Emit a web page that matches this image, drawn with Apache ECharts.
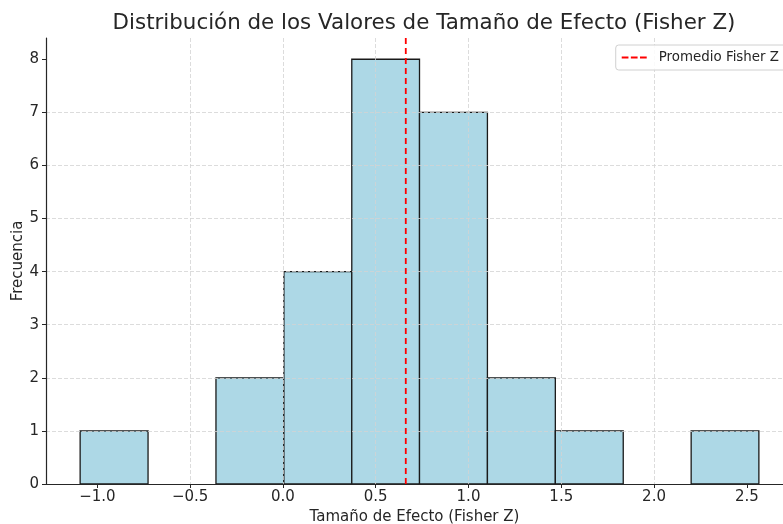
<!DOCTYPE html>
<html>
<head>
<meta charset="utf-8">
<script src="https://cdn.jsdelivr.net/npm/echarts@6/dist/echarts.min.js"></script>
<style>
html,body{margin:0;padding:0;background:#fff;}
#chart{width:783px;height:524px;}
</style>
</head>
<body>
<div id="chart"></div>
<script>
// Histogram bin edges (Fisher Z) and counts
const binEdges = [-1.093, -0.727, -0.361, 0.005, 0.371, 0.736, 1.102, 1.468, 1.834, 2.200, 2.565];
const counts = [1, 0, 2, 4, 8, 7, 2, 1, 0, 1];
const meanFisherZ = 0.662;
const xTicks = [-1.0, -0.5, 0.0, 0.5, 1.0, 1.5, 2.0, 2.5];
const yTicks = [0, 1, 2, 3, 4, 5, 6, 7, 8];

const FONT = 'DejaVu Sans';
const barData = counts.map((c, i) => [binEdges[i], binEdges[i + 1], c]);

const chart = echarts.init(document.getElementById('chart'), null, {renderer: 'canvas'});
const option = {
  animation: false,
  backgroundColor: '#ffffff',
  title: {
    text: 'Distribución de los Valores de Tamaño de Efecto (Fisher Z)',
    left: 419, top: 8, textAlign: 'center',
    textStyle: {fontFamily: FONT, fontSize: 21.4, fontWeight: 'normal', color: '#262626'}
  },
  legend: {
    right: -8, top: 45,
    data: [{name: 'Promedio Fisher Z', icon: 'path://M0,0L7,0L7,2L0,2ZM9.5,0L16.5,0L16.5,2L9.5,2ZM19,0L26,0L26,2L19,2Z'}],
    itemWidth: 25, itemHeight: 2,
    padding: [5, 12, 5, 6],
    borderColor: '#d0d0d0', borderWidth: 1, borderRadius: 3,
    backgroundColor: 'rgba(255,255,255,0.85)',
    itemStyle: {color: '#ff0000', borderWidth: 0},
    textStyle: {fontFamily: FONT, fontSize: 13.4, color: '#262626', padding: [0, 0, 0, 7], lineHeight: 15}
  },
  grid: {left: 46, right: 0, top: 38, bottom: 40, containLabel: false, outerBoundsMode: 'none'},
  xAxis: {
    type: 'value', min: -1.277, max: 2.695, z: 3,
    name: 'Tamaño de Efecto (Fisher Z)', nameLocation: 'middle', nameGap: 26, nameMoveOverlap: false,
    nameTextStyle: {fontFamily: FONT, fontSize: 15, color: '#262626'},
    axisLine: {show: true, onZero: false, lineStyle: {color: '#262626', width: 1.2}},
    axisTick: {show: true, length: 4, inside: false, customValues: xTicks, lineStyle: {color: '#262626'}},
    axisLabel: {
      customValues: xTicks, margin: 6,
      fontFamily: FONT, fontSize: 15, color: '#262626',
      formatter: v => (v < 0 ? '\u2212' : '') + Math.abs(v).toFixed(1)
    },
    splitLine: {show: true, showMinLine: false, showMaxLine: false, lineStyle: {color: '#d3d3d3', type: [4, 2], width: 0.8}}
  },
  yAxis: {
    type: 'value', min: 0, max: 8.4, z: 3,
    name: 'Frecuencia', nameLocation: 'middle', nameGap: 20, nameRotate: 90, nameMoveOverlap: false,
    nameTextStyle: {fontFamily: FONT, fontSize: 15, color: '#262626'},
    axisLine: {show: true, onZero: false, lineStyle: {color: '#262626', width: 1.2}},
    axisTick: {show: true, length: 4, inside: false, customValues: yTicks, lineStyle: {color: '#262626'}},
    axisLabel: {customValues: yTicks, margin: 7, fontFamily: FONT, fontSize: 15, color: '#262626'},
    splitLine: {show: true, showMinLine: false, showMaxLine: false, lineStyle: {color: '#d3d3d3', type: [4, 2], width: 0.8}}
  },
  series: [
    {
      type: 'custom', name: 'hist', z: 2,
      data: barData,
      encode: {x: [0, 1], y: 2},
      renderItem: function (params, api) {
        const c = api.value(2);
        if (!c) return null;
        const p0 = api.coord([api.value(0), c]);
        const p1 = api.coord([api.value(1), 0]);
        return {
          type: 'rect',
          shape: {x: p0[0], y: p0[1], width: p1[0] - p0[0], height: p1[1] - p0[1]},
          style: {fill: '#add8e6', stroke: '#1a1a1a', lineWidth: 1.3}
        };
      }
    },
    {
      type: 'line', name: 'Promedio Fisher Z', z: 5,
      data: [[meanFisherZ, 0], [meanFisherZ, 8.4]],
      symbol: 'none',
      lineStyle: {color: '#ff0000', type: [6, 4], width: 1.8},
      itemStyle: {color: '#ff0000'}
    }
  ]
};
chart.setOption(option);
</script>
</body>
</html>
